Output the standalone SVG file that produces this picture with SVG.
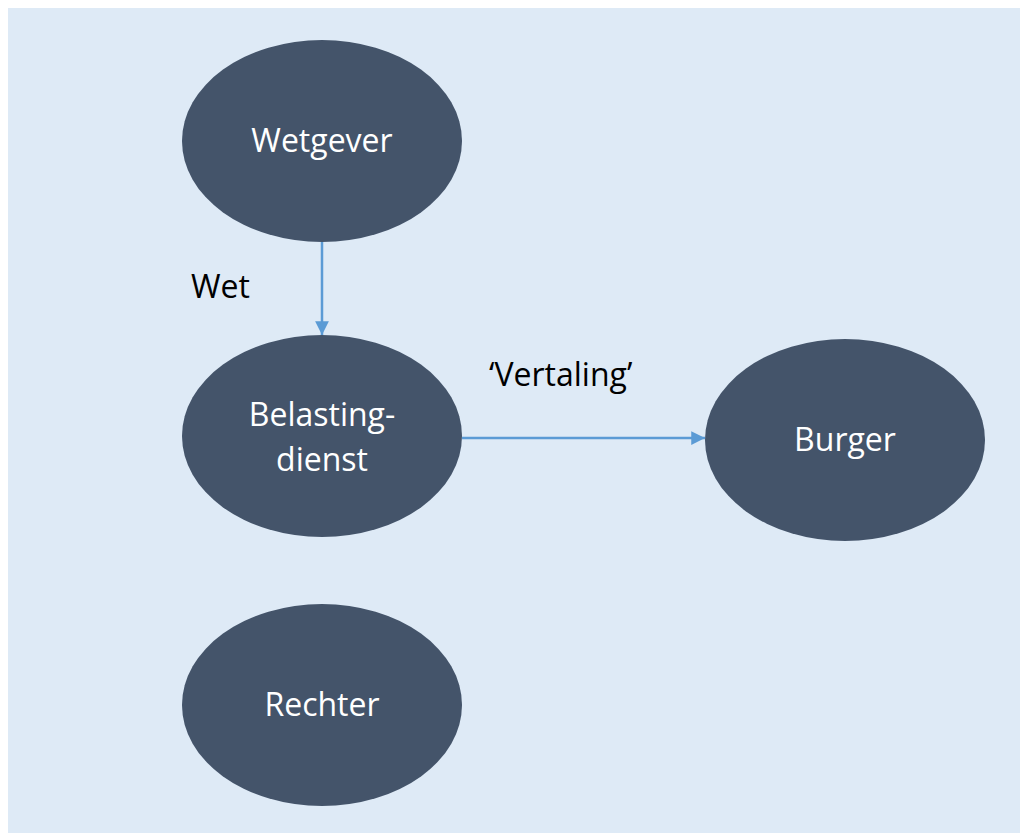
<svg xmlns="http://www.w3.org/2000/svg" width="1020" height="837" viewBox="0 0 1020 837">
<style>
.node{fill:#44546A}
.nt{fill:#FFFFFF;font-family:"Open Sans","Noto Sans",sans-serif;font-size:32px;text-anchor:middle}
.lbl{fill:#000000;font-family:"Open Sans","Noto Sans",sans-serif;font-size:32px}
.conn{stroke:#5B9BD5;stroke-width:2.5;fill:none}
</style>
<defs>
<marker id="ah" viewBox="0 0 10 10" refX="10" refY="5" markerWidth="5.5" markerHeight="5.5" markerUnits="strokeWidth" orient="auto">
<path d="M0,0 L10,5 L0,10 Z" fill="#5B9BD5"/>
</marker>
</defs>
<rect x="8" y="8" width="1012" height="825" fill="#DEEAF6"/>
<g id="connectors">
<line class="conn" x1="322" y1="242" x2="322" y2="335" marker-end="url(#ah)"/>
<line class="conn" x1="462" y1="438" x2="705" y2="438" marker-end="url(#ah)"/>
<text class="lbl" x="191" y="298">Wet</text>
<text class="lbl" x="489" y="386">‘Vertaling’</text>
</g>
<g id="wetgever">
<ellipse class="node" cx="322" cy="141" rx="140" ry="101"/>
<text class="nt" x="322" y="152">Wetgever</text>
</g>
<g id="belastingdienst">
<ellipse class="node" cx="322" cy="436" rx="140" ry="101"/>
<text class="nt" x="322" y="426">Belasting-</text>
<text class="nt" x="322" y="471">dienst</text>
</g>
<g id="burger">
<ellipse class="node" cx="845" cy="440" rx="140" ry="101"/>
<text class="nt" x="845" y="451">Burger</text>
</g>
<g id="rechter">
<ellipse class="node" cx="322" cy="705" rx="140" ry="101"/>
<text class="nt" x="322" y="716">Rechter</text>
</g>
</svg>
